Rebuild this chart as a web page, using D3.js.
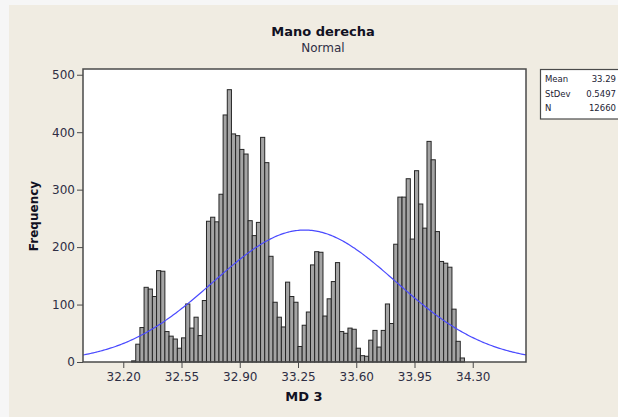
<!DOCTYPE html>
<html>
<head>
<meta charset="utf-8">
<script src="https://cdn.jsdelivr.net/npm/d3@7/dist/d3.min.js"></script>
<style>
  html, body { margin: 0; padding: 0; background: #f6f6f6; }
  svg { display: block; }
  text { font-family: "DejaVu Sans", Verdana, sans-serif; }
</style>
</head>
<body>
<svg id="chart" width="618" height="417"></svg>
<script>
// ---- data ----
const title = "Mano derecha";
const subtitle = "Normal";
const xLabel = "MD 3";
const yLabel = "Frequency";
const binStart = 32.25;
const binWidth = 0.025;
const counts = [
  2, 31, 60, 130, 127, 114, 159, 158, 53, 45,
  40, 24, 42, 101, 59, 78, 46, 107, 245, 252,
  244, 292, 430, 474, 397, 394, 370, 362, 246, 220,
  243, 391, 347, 184, 104, 78, 61, 139, 114, 104,
  27, 64, 87, 169, 192, 191, 80, 110, 140, 173,
  53, 50, 59, 57, 24, 11, 10, 38, 55, 26,
  55, 101, 67, 205, 287, 287, 319, 214, 333, 275,
  233, 384, 352, 227, 175, 172, 165, 92, 36, 7
];
const xTicks = [32.20, 32.55, 32.90, 33.25, 33.60, 33.95, 34.30];
const yTicks = [0, 100, 200, 300, 400, 500];
const statLabels = ["Mean", "StDev", "N"];
const statValues = ["33.29", "0.5497", "12660"];
const fitMean = 33.29;
const fitSd = 0.5497;
const fitN = 12660;
const xDomain = [31.958, 34.62];
const yDomain = [0, 510];

// ---- layout ----
const svg = d3.select("#chart");
const plot = { left: 83, right: 526, top: 69, bottom: 362 };

svg.append("rect").attr("x", 9).attr("y", 5).attr("width", 609).attr("height", 412)
  .attr("fill", "#f0ece2");

const x = d3.scaleLinear().domain(xDomain).range([plot.left, plot.right]);
const y = d3.scaleLinear().domain(yDomain).range([plot.bottom, plot.top]);

svg.append("rect")
  .attr("x", plot.left).attr("y", plot.top)
  .attr("width", plot.right - plot.left).attr("height", plot.bottom - plot.top)
  .attr("fill", "#ffffff");

// bars
svg.append("g").selectAll("rect").data(counts).join("rect")
  .attr("x", (d, i) => x(binStart + i * binWidth))
  .attr("width", (d, i) => x(binStart + (i + 1) * binWidth) - x(binStart + i * binWidth))
  .attr("y", d => y(d))
  .attr("height", d => y(0) - y(d))
  .attr("fill", "#a4a4a4")
  .attr("stroke", "#262626")
  .attr("stroke-width", 1);

// fitted normal curve
const scale = fitN * binWidth / (fitSd * Math.sqrt(2 * Math.PI));
const curvePts = d3.range(0, 301).map(i => {
  const v = xDomain[0] + (xDomain[1] - xDomain[0]) * i / 300;
  const z = (v - fitMean) / fitSd;
  return [v, scale * Math.exp(-0.5 * z * z)];
});
svg.append("path").datum(curvePts)
  .attr("d", d3.line().x(d => x(d[0])).y(d => y(d[1])))
  .attr("fill", "none").attr("stroke", "#4a4aff").attr("stroke-width", 1.2);

// frame
svg.append("rect")
  .attr("x", plot.left).attr("y", plot.top)
  .attr("width", plot.right - plot.left).attr("height", plot.bottom - plot.top)
  .attr("fill", "none").attr("stroke", "#4a4a4a").attr("stroke-width", 1.5);

// axes
const xAxis = svg.append("g").attr("transform", `translate(0,${plot.bottom})`)
  .call(d3.axisBottom(x).tickValues(xTicks).tickFormat(d3.format(".2f")).tickSize(6).tickPadding(4));
const yAxis = svg.append("g").attr("transform", `translate(${plot.left},0)`)
  .call(d3.axisLeft(y).tickValues(yTicks).tickSize(6).tickPadding(2));
[xAxis, yAxis].forEach(a => {
  a.select(".domain").remove();
  a.selectAll(".tick line").attr("stroke", "#4a4a4a");
  a.selectAll(".tick text").attr("fill", "#2e2e44").style("font-size", "12px")
    .style("font-family", "'DejaVu Sans', sans-serif");
});

// titles
svg.append("text").attr("x", 323).attr("y", 36).attr("text-anchor", "middle")
  .style("font-size", "13px").style("font-weight", "bold").attr("fill", "#111122").text(title);
svg.append("text").attr("x", 323).attr("y", 52).attr("text-anchor", "middle")
  .style("font-size", "12px").attr("fill", "#2e2e44").text(subtitle);
svg.append("text").attr("x", 304).attr("y", 401).attr("text-anchor", "middle")
  .style("font-size", "13px").style("font-weight", "bold").attr("fill", "#111122").text(xLabel);
svg.append("text").attr("transform", `translate(38,216) rotate(-90)`).attr("text-anchor", "middle")
  .style("font-size", "12px").style("font-weight", "bold").attr("fill", "#111122").text(yLabel);

// stats box
svg.append("rect").attr("x", 540.5).attr("y", 69.5).attr("width", 100).attr("height", 49.5)
  .attr("fill", "#ffffff").attr("stroke", "#4a4a4a").attr("stroke-width", 1.2);
const sg = svg.append("g");
sg.selectAll("text.lab").data(statLabels).join("text").attr("class", "lab")
  .attr("x", 545).attr("y", (d, i) => 82 + i * 14.5)
  .style("font-size", "8.5px").attr("fill", "#222233").text(d => d);
sg.selectAll("text.val").data(statValues).join("text").attr("class", "val")
  .attr("x", 616).attr("y", (d, i) => 82 + i * 14.5).attr("text-anchor", "end")
  .style("font-size", "8.5px").attr("fill", "#222233").text(d => d);
</script>
</body>
</html>
